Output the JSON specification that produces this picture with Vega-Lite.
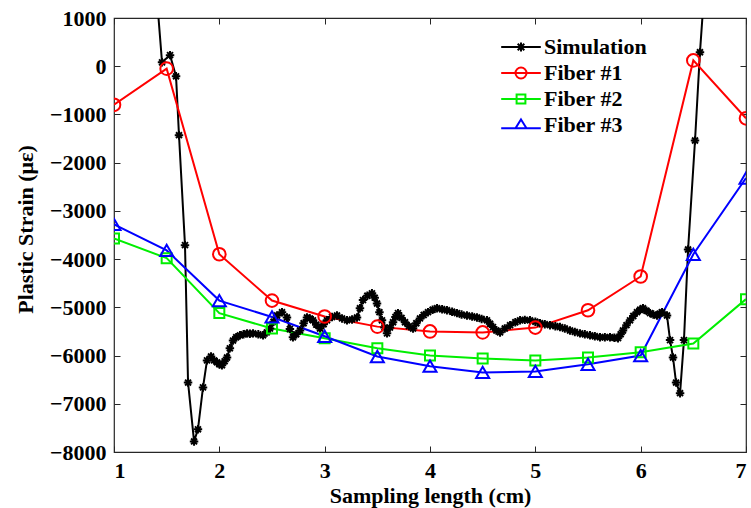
{
  "$schema": "https://vega.github.io/schema/vega-lite/v6.json",
  "width": 632,
  "height": 434,
  "autosize": {"type": "none"},
  "padding": {"left": 114, "top": 18, "right": 5, "bottom": 56},
  "background": "white",
  "config": {
    "view": {"stroke": "#262626", "strokeWidth": 1.2},
    "font": "Liberation Serif",
    "axis": {
      "labelFont": "Liberation Serif", "labelFontWeight": "bold", "labelFontSize": 22, "labelColor": "#000000",
      "titleFont": "Liberation Serif", "titleFontWeight": "bold", "titleFontSize": 22, "titleColor": "#000000",
      "grid": false, "domain": false, "tickColor": "#262626", "tickSize": -6, "tickWidth": 1
    },
    "legend": {
      "labelFont": "Liberation Serif", "labelFontWeight": "bold", "labelFontSize": 22, "labelColor": "#000000",
      "labelOffset": 12, "rowPadding": 4, "symbolSize": 121, "symbolStrokeWidth": 2, "symbolOpacity": 1, "padding": 0
    }
  },
  "datasets": {"d": [
    {"series": "Simulation", "x": 1.35, "y": 3000},
    {"series": "Simulation", "x": 1.456, "y": 80},
    {"series": "Simulation", "x": 1.532, "y": 230},
    {"series": "Simulation", "x": 1.589, "y": -210},
    {"series": "Simulation", "x": 1.617, "y": -1430},
    {"series": "Simulation", "x": 1.674, "y": -3710},
    {"series": "Simulation", "x": 1.703, "y": -6560},
    {"series": "Simulation", "x": 1.76, "y": -7780},
    {"series": "Simulation", "x": 1.797, "y": -7530},
    {"series": "Simulation", "x": 1.845, "y": -6660},
    {"series": "Simulation", "x": 1.883, "y": -6100},
    {"series": "Simulation", "x": 1.921, "y": -6020},
    {"series": "Simulation", "x": 1.95, "y": -6100},
    {"series": "Simulation", "x": 1.978, "y": -6140},
    {"series": "Simulation", "x": 2.0, "y": -6180},
    {"series": "Simulation", "x": 2.025, "y": -6200},
    {"series": "Simulation", "x": 2.05, "y": -6120},
    {"series": "Simulation", "x": 2.073, "y": -6040},
    {"series": "Simulation", "x": 2.1, "y": -5850},
    {"series": "Simulation", "x": 2.13, "y": -5690},
    {"series": "Simulation", "x": 2.16, "y": -5620},
    {"series": "Simulation", "x": 2.196, "y": -5580},
    {"series": "Simulation", "x": 2.23, "y": -5560},
    {"series": "Simulation", "x": 2.263, "y": -5540},
    {"series": "Simulation", "x": 2.29, "y": -5550},
    {"series": "Simulation", "x": 2.32, "y": -5540},
    {"series": "Simulation", "x": 2.37, "y": -5560},
    {"series": "Simulation", "x": 2.415, "y": -5580},
    {"series": "Simulation", "x": 2.45, "y": -5520},
    {"series": "Simulation", "x": 2.481, "y": -5440},
    {"series": "Simulation", "x": 2.515, "y": -5300},
    {"series": "Simulation", "x": 2.548, "y": -5170},
    {"series": "Simulation", "x": 2.595, "y": -5100},
    {"series": "Simulation", "x": 2.642, "y": -5210},
    {"series": "Simulation", "x": 2.67, "y": -5450},
    {"series": "Simulation", "x": 2.699, "y": -5620},
    {"series": "Simulation", "x": 2.73, "y": -5560},
    {"series": "Simulation", "x": 2.766, "y": -5480},
    {"series": "Simulation", "x": 2.8, "y": -5330},
    {"series": "Simulation", "x": 2.832, "y": -5210},
    {"series": "Simulation", "x": 2.86, "y": -5230},
    {"series": "Simulation", "x": 2.889, "y": -5270},
    {"series": "Simulation", "x": 2.92, "y": -5360},
    {"series": "Simulation", "x": 2.956, "y": -5440},
    {"series": "Simulation", "x": 2.99, "y": -5350},
    {"series": "Simulation", "x": 3.022, "y": -5270},
    {"series": "Simulation", "x": 3.07, "y": -5200},
    {"series": "Simulation", "x": 3.117, "y": -5170},
    {"series": "Simulation", "x": 3.165, "y": -5230},
    {"series": "Simulation", "x": 3.212, "y": -5270},
    {"series": "Simulation", "x": 3.26, "y": -5250},
    {"series": "Simulation", "x": 3.307, "y": -5210},
    {"series": "Simulation", "x": 3.335, "y": -5020},
    {"series": "Simulation", "x": 3.364, "y": -4850},
    {"series": "Simulation", "x": 3.405, "y": -4760},
    {"series": "Simulation", "x": 3.449, "y": -4710},
    {"series": "Simulation", "x": 3.475, "y": -4800},
    {"series": "Simulation", "x": 3.497, "y": -4920},
    {"series": "Simulation", "x": 3.52, "y": -5100},
    {"series": "Simulation", "x": 3.544, "y": -5270},
    {"series": "Simulation", "x": 3.568, "y": -5420},
    {"series": "Simulation", "x": 3.592, "y": -5540},
    {"series": "Simulation", "x": 3.62, "y": -5420},
    {"series": "Simulation", "x": 3.649, "y": -5310},
    {"series": "Simulation", "x": 3.672, "y": -5200},
    {"series": "Simulation", "x": 3.696, "y": -5120},
    {"series": "Simulation", "x": 3.73, "y": -5220},
    {"series": "Simulation", "x": 3.763, "y": -5310},
    {"series": "Simulation", "x": 3.8, "y": -5390},
    {"series": "Simulation", "x": 3.839, "y": -5440},
    {"series": "Simulation", "x": 3.87, "y": -5330},
    {"series": "Simulation", "x": 3.905, "y": -5230},
    {"series": "Simulation", "x": 3.94, "y": -5160},
    {"series": "Simulation", "x": 3.981, "y": -5100},
    {"series": "Simulation", "x": 4.025, "y": -5050},
    {"series": "Simulation", "x": 4.067, "y": -5020},
    {"series": "Simulation", "x": 4.115, "y": -5040},
    {"series": "Simulation", "x": 4.161, "y": -5060},
    {"series": "Simulation", "x": 4.21, "y": -5090},
    {"series": "Simulation", "x": 4.256, "y": -5120},
    {"series": "Simulation", "x": 4.3, "y": -5150},
    {"series": "Simulation", "x": 4.351, "y": -5170},
    {"series": "Simulation", "x": 4.4, "y": -5190},
    {"series": "Simulation", "x": 4.446, "y": -5210},
    {"series": "Simulation", "x": 4.49, "y": -5240},
    {"series": "Simulation", "x": 4.541, "y": -5270},
    {"series": "Simulation", "x": 4.57, "y": -5340},
    {"series": "Simulation", "x": 4.598, "y": -5410},
    {"series": "Simulation", "x": 4.63, "y": -5480},
    {"series": "Simulation", "x": 4.665, "y": -5520},
    {"series": "Simulation", "x": 4.71, "y": -5440},
    {"series": "Simulation", "x": 4.76, "y": -5370},
    {"series": "Simulation", "x": 4.81, "y": -5310},
    {"series": "Simulation", "x": 4.855, "y": -5270},
    {"series": "Simulation", "x": 4.9, "y": -5260},
    {"series": "Simulation", "x": 4.949, "y": -5270},
    {"series": "Simulation", "x": 5.0, "y": -5300},
    {"series": "Simulation", "x": 5.044, "y": -5330},
    {"series": "Simulation", "x": 5.09, "y": -5350},
    {"series": "Simulation", "x": 5.139, "y": -5370},
    {"series": "Simulation", "x": 5.19, "y": -5390},
    {"series": "Simulation", "x": 5.234, "y": -5410},
    {"series": "Simulation", "x": 5.28, "y": -5440},
    {"series": "Simulation", "x": 5.329, "y": -5480},
    {"series": "Simulation", "x": 5.375, "y": -5510},
    {"series": "Simulation", "x": 5.424, "y": -5540},
    {"series": "Simulation", "x": 5.47, "y": -5560},
    {"series": "Simulation", "x": 5.519, "y": -5580},
    {"series": "Simulation", "x": 5.565, "y": -5600},
    {"series": "Simulation", "x": 5.614, "y": -5620},
    {"series": "Simulation", "x": 5.66, "y": -5620},
    {"series": "Simulation", "x": 5.709, "y": -5620},
    {"series": "Simulation", "x": 5.75, "y": -5630},
    {"series": "Simulation", "x": 5.785, "y": -5640},
    {"series": "Simulation", "x": 5.81, "y": -5560},
    {"series": "Simulation", "x": 5.832, "y": -5480},
    {"series": "Simulation", "x": 5.865, "y": -5370},
    {"series": "Simulation", "x": 5.899, "y": -5270},
    {"series": "Simulation", "x": 5.93, "y": -5180},
    {"series": "Simulation", "x": 5.965, "y": -5100},
    {"series": "Simulation", "x": 5.995, "y": -5050},
    {"series": "Simulation", "x": 6.022, "y": -5020},
    {"series": "Simulation", "x": 6.055, "y": -5070},
    {"series": "Simulation", "x": 6.089, "y": -5120},
    {"series": "Simulation", "x": 6.12, "y": -5150},
    {"series": "Simulation", "x": 6.155, "y": -5170},
    {"series": "Simulation", "x": 6.18, "y": -5130},
    {"series": "Simulation", "x": 6.203, "y": -5100},
    {"series": "Simulation", "x": 6.25, "y": -5170},
    {"series": "Simulation", "x": 6.279, "y": -5680},
    {"series": "Simulation", "x": 6.307, "y": -6040},
    {"series": "Simulation", "x": 6.336, "y": -6560},
    {"series": "Simulation", "x": 6.374, "y": -6780},
    {"series": "Simulation", "x": 6.411, "y": -5680},
    {"series": "Simulation", "x": 6.45, "y": -3800},
    {"series": "Simulation", "x": 6.516, "y": -1540},
    {"series": "Simulation", "x": 6.563, "y": 290},
    {"series": "Simulation", "x": 6.65, "y": 3000},
    {"series": "Fiber #1", "x": 1, "y": -800},
    {"series": "Fiber #1", "x": 1.5, "y": -50},
    {"series": "Fiber #1", "x": 2, "y": -3900},
    {"series": "Fiber #1", "x": 2.5, "y": -4860},
    {"series": "Fiber #1", "x": 3, "y": -5190},
    {"series": "Fiber #1", "x": 3.5, "y": -5400},
    {"series": "Fiber #1", "x": 4, "y": -5500},
    {"series": "Fiber #1", "x": 4.5, "y": -5520},
    {"series": "Fiber #1", "x": 5, "y": -5420},
    {"series": "Fiber #1", "x": 5.5, "y": -5060},
    {"series": "Fiber #1", "x": 6, "y": -4360},
    {"series": "Fiber #1", "x": 6.5, "y": 120},
    {"series": "Fiber #1", "x": 7, "y": -1080},
    {"series": "Fiber #2", "x": 1, "y": -3570},
    {"series": "Fiber #2", "x": 1.5, "y": -3980},
    {"series": "Fiber #2", "x": 2, "y": -5120},
    {"series": "Fiber #2", "x": 2.5, "y": -5440},
    {"series": "Fiber #2", "x": 3, "y": -5640},
    {"series": "Fiber #2", "x": 3.5, "y": -5850},
    {"series": "Fiber #2", "x": 4, "y": -6000},
    {"series": "Fiber #2", "x": 4.5, "y": -6060},
    {"series": "Fiber #2", "x": 5, "y": -6100},
    {"series": "Fiber #2", "x": 5.5, "y": -6040},
    {"series": "Fiber #2", "x": 6, "y": -5930},
    {"series": "Fiber #2", "x": 6.5, "y": -5750},
    {"series": "Fiber #2", "x": 7, "y": -4830},
    {"series": "Fiber #3", "x": 1, "y": -3280},
    {"series": "Fiber #3", "x": 1.5, "y": -3820},
    {"series": "Fiber #3", "x": 2, "y": -4860},
    {"series": "Fiber #3", "x": 2.5, "y": -5200},
    {"series": "Fiber #3", "x": 3, "y": -5600},
    {"series": "Fiber #3", "x": 3.5, "y": -6020},
    {"series": "Fiber #3", "x": 4, "y": -6220},
    {"series": "Fiber #3", "x": 4.5, "y": -6350},
    {"series": "Fiber #3", "x": 5, "y": -6330},
    {"series": "Fiber #3", "x": 5.5, "y": -6180},
    {"series": "Fiber #3", "x": 6, "y": -6000},
    {"series": "Fiber #3", "x": 6.5, "y": -3900},
    {"series": "Fiber #3", "x": 7, "y": -2320}
  ]},
  "data": {"name": "d"},
  "layer": [
    {
      "mark": {"type": "point", "filled": false, "clip": true, "opacity": 0, "size": 121, "strokeWidth": 2},
      "encoding": {
        "x": {"field": "x", "type": "quantitative", "scale": {"domain": [1, 7], "nice": false, "zero": false}, "axis": null},
        "y": {"field": "y", "type": "quantitative", "scale": {"domain": [-8000, 1000], "nice": false, "zero": false}, "axis": null},
        "color": {"field": "series", "type": "nominal",
                  "scale": {"domain": ["Simulation", "Fiber #1", "Fiber #2", "Fiber #3"], "range": ["#000000", "#ff0000", "#00ee00", "#0000ff"]},
                  "legend": {"title": null, "orient": "none", "legendX": 396, "legendY": 18, "symbolOpacity": 1}},
        "shape": {"field": "series", "type": "nominal",
                  "scale": {"domain": ["Simulation", "Fiber #1", "Fiber #2", "Fiber #3"],
                            "range": ["M-3.6,0L3.6,0M0,-0.8L0,0.8M-0.6,-0.6L0.6,0.6M-0.6,0.6L0.6,-0.6",
                                      "M-3.6,0L3.6,0M-1,0A1,1 0 1,1 1,0A1,1 0 1,1 -1,0",
                                      "M-3.6,0L3.6,0M-0.8,-0.8L0.8,-0.8L0.8,0.8L-0.8,0.8Z",
                                      "M-3.6,0.6L3.6,0.6M0,-1L1,0.6L-1,0.6Z"]},
                  "legend": {"title": null, "orient": "none", "legendX": 396, "legendY": 18, "symbolOpacity": 1}}
      }
    },
    {
      "mark": {"type": "line", "strokeWidth": 2, "clip": true},
      "encoding": {
        "x": {"field": "x", "type": "quantitative",
              "axis": {"orient": "bottom", "values": [1, 2, 3, 4, 5, 6, 7], "format": "d", "title": "Sampling length (cm)", "labelPadding": 14, "titlePadding": 4}},
        "y": {"field": "y", "type": "quantitative",
              "axis": {"orient": "left", "values": [1000, 0, -1000, -2000, -3000, -4000, -5000, -6000, -7000, -8000], "format": "d", "title": "Plastic Strain (με)", "labelPadding": 14, "titlePadding": 12, "titleY": 211}},
        "color": {"field": "series", "type": "nominal"}
      }
    },
    {
      "transform": [{"filter": "datum.series == 'Simulation'"}],
      "mark": {"type": "point", "filled": false, "clip": true, "opacity": 1, "size": 72, "strokeWidth": 2,
               "shape": "M-1,0L1,0M0,-1L0,1M-0.7,-0.7L0.7,0.7M-0.7,0.7L0.7,-0.7"},
      "encoding": {
        "x": {"field": "x", "type": "quantitative",
              "axis": {"orient": "top", "values": [1, 2, 3, 4, 5, 6, 7], "labels": false, "title": null}},
        "y": {"field": "y", "type": "quantitative",
              "axis": {"orient": "right", "values": [1000, 0, -1000, -2000, -3000, -4000, -5000, -6000, -7000, -8000], "labels": false, "title": null}},
        "color": {"field": "series", "type": "nominal"}
      }
    },
    {
      "transform": [{"filter": "datum.series == 'Fiber #1'"}],
      "mark": {"type": "point", "filled": false, "clip": true, "opacity": 1, "size": 160, "strokeWidth": 2, "shape": "circle"},
      "encoding": {
        "x": {"field": "x", "type": "quantitative", "axis": null},
        "y": {"field": "y", "type": "quantitative", "axis": null},
        "color": {"field": "series", "type": "nominal"}
      }
    },
    {
      "transform": [{"filter": "datum.series == 'Fiber #2'"}],
      "mark": {"type": "point", "filled": false, "clip": true, "opacity": 1, "size": 100, "strokeWidth": 2, "shape": "square"},
      "encoding": {
        "x": {"field": "x", "type": "quantitative", "axis": null},
        "y": {"field": "y", "type": "quantitative", "axis": null},
        "color": {"field": "series", "type": "nominal"}
      }
    },
    {
      "transform": [{"filter": "datum.series == 'Fiber #3'"}],
      "mark": {"type": "point", "filled": false, "clip": true, "opacity": 1, "size": 170, "strokeWidth": 2, "shape": "triangle-up"},
      "encoding": {
        "x": {"field": "x", "type": "quantitative", "axis": null},
        "y": {"field": "y", "type": "quantitative", "axis": null},
        "color": {"field": "series", "type": "nominal"}
      }
    }
  ],
  "resolve": {"axis": {"x": "independent", "y": "independent"}}
}
